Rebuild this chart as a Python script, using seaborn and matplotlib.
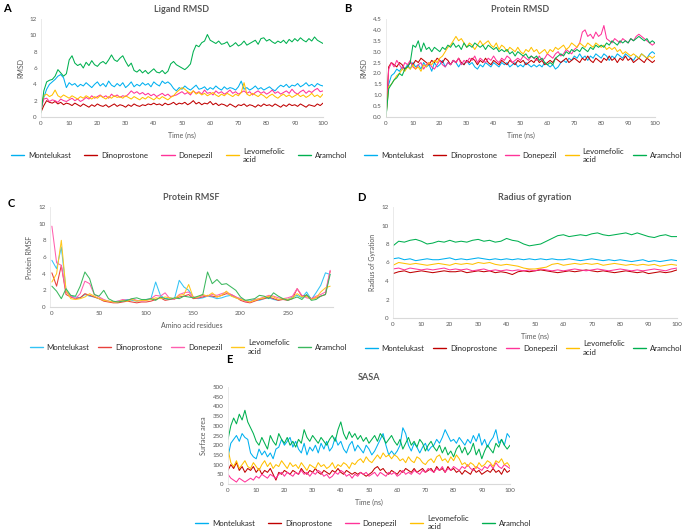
import numpy as np
import pandas as pd
import seaborn as sns
from matplotlib import pyplot as plt
from matplotlib.ticker import MultipleLocator

sns.set_theme(style='white')
plt.rcParams['font.family'] = ['Lato', 'DejaVu Sans']

compounds = ['Montelukast', 'Dinoprostone', 'Donepezil', 'Levomefolic\nacid', 'Aramchol']

# ---- A: ligand RMSD (one value per ns, 0..100)
lig_mont = [1.0, 2.4, 3.4, 4.0, 4.3, 4.6, 5.0, 5.2, 4.8, 3.6, 4.2, 3.9, 4.1, 3.7, 4.0, 3.8, 4.2, 3.9, 3.6, 4.0,
            4.3, 3.8, 4.1, 3.7, 4.4, 3.9, 3.7, 4.1, 3.8, 4.2, 3.6, 3.9, 4.3, 3.7, 4.0, 3.8, 4.2, 3.9, 4.1, 3.7,
            4.3, 4.0, 3.8, 4.4, 4.1, 4.3, 4.0, 3.5, 3.2, 3.6, 3.4, 3.8, 3.5, 3.3, 3.6, 3.9, 3.4, 3.5, 3.7, 3.3,
            3.6, 3.4, 3.8, 3.5, 3.3, 3.7, 3.4, 3.6, 3.5, 3.3, 3.7, 4.4, 3.4, 3.6, 3.3, 3.5, 3.8, 3.4, 3.6, 3.3,
            3.5, 3.7, 3.4, 3.2, 3.6, 3.9, 3.7, 4.0, 3.6, 3.9, 3.8, 4.1, 3.7, 3.9, 4.2, 3.8, 4.0, 3.7, 4.1, 3.9, 3.8]
lig_dino = [0.6, 1.4, 2.0, 1.8, 1.7, 1.9, 1.6, 1.8, 1.5, 1.7, 1.6, 1.4, 1.7, 1.5, 1.3, 1.6, 1.4, 1.2, 1.5, 1.3,
            1.6, 1.4, 1.3, 1.5, 1.2, 1.4, 1.6, 1.3, 1.5, 1.4, 1.2, 1.5, 1.3, 1.6, 1.4, 1.3, 1.5, 1.4, 1.6, 1.5,
            1.7, 1.5, 1.6, 1.4, 1.7, 1.5, 1.6, 1.8, 1.5, 1.7, 1.6, 1.8, 1.5, 1.7, 2.0, 1.6, 1.8, 1.5, 1.7, 1.6,
            1.9, 1.5, 1.7, 1.4, 1.6, 1.5, 1.3, 1.6, 1.4, 1.2, 1.5, 1.4, 1.6, 1.3, 1.5, 1.4, 1.2, 1.5, 1.3, 1.6,
            1.4, 1.5, 1.3, 1.6, 1.4, 1.2, 1.5, 1.3, 1.6, 1.4, 1.5, 1.3, 1.6, 1.4, 1.2, 1.5, 1.4, 1.3, 1.6, 1.4, 1.7]
lig_done = [1.0, 2.2, 2.3, 1.9, 2.1, 2.0, 1.8, 2.2, 2.0, 1.9, 2.1, 2.3, 2.0, 2.2, 1.9, 2.1, 2.4, 2.2, 2.6, 2.3,
            2.5, 2.7, 2.4, 2.6, 2.3, 2.8, 2.5, 2.7, 2.4, 2.6, 2.5, 2.8, 3.2, 2.9, 3.1, 2.8, 3.0, 2.7, 2.9, 2.6,
            2.8, 2.5, 2.7, 2.9, 2.6, 2.8, 2.5, 2.6, 2.7, 2.9, 3.1, 2.8, 3.0, 2.7, 3.2, 2.9, 3.1, 2.8, 3.3, 2.9,
            3.0, 2.7, 3.2, 2.9, 3.1, 2.8, 3.0, 3.3, 2.9, 3.1, 2.8, 3.0, 3.2, 2.9, 3.1, 2.7, 3.0, 3.2, 2.9, 3.1,
            2.8, 3.0, 3.3, 2.9, 3.1, 2.8, 3.0, 3.2, 2.9, 3.4, 3.0, 2.8, 3.1, 3.3, 2.9, 3.2, 3.0, 3.3, 3.5, 3.1, 3.2]
lig_levo = [1.5, 2.6, 2.8, 2.5, 2.7, 3.3, 2.6, 2.4, 2.7, 2.5, 2.3, 2.6, 2.4, 2.2, 2.5, 2.3, 2.6, 2.4, 2.2, 2.5,
            2.3, 2.6, 2.4, 2.2, 2.5, 2.3, 2.6, 2.4, 2.5, 2.3, 2.6, 2.4, 2.2, 2.5, 2.3, 2.1, 2.4, 2.2, 2.5, 2.3,
            2.1, 2.4, 2.2, 2.5, 2.3, 2.1, 2.4, 2.6, 3.0, 3.3, 3.6, 3.4, 3.1, 2.9, 3.2, 2.8, 3.0, 2.7, 2.9, 2.6,
            2.8, 3.0, 2.7, 2.5, 2.8, 2.6, 2.9, 2.7, 2.5, 2.8, 2.6, 3.0, 4.2, 2.8, 2.6, 2.9, 2.7, 2.5, 2.8, 2.6,
            2.3, 2.6, 2.8, 2.5, 2.3, 2.6, 2.8, 2.5, 2.7, 2.4, 2.6, 2.8, 2.5, 2.7, 2.4, 2.6, 2.9, 2.5, 2.7, 2.4, 2.8]
lig_aram = [0.5, 3.2, 4.3, 4.5, 4.6, 5.0, 5.8, 5.4, 5.0, 5.3, 7.0, 7.5, 6.6, 6.3, 6.5, 6.0, 6.7, 6.3, 6.9, 6.4,
            6.2, 6.6, 6.8, 6.5, 7.0, 7.6, 7.0, 6.8, 7.2, 7.5, 6.8, 6.2, 6.6, 5.7, 5.5, 5.8, 5.4, 5.7, 5.3, 5.6,
            5.9, 5.5, 5.4, 5.7, 5.3, 5.6, 6.5, 6.8, 6.4, 6.2, 6.0, 5.8, 6.1, 6.5, 8.0, 8.8, 8.6, 9.1, 9.3, 10.1,
            9.4, 9.2, 9.0, 9.3, 8.9, 9.0, 9.2, 8.6, 8.8, 9.1, 8.7, 8.9, 9.3, 8.8, 9.0, 9.2, 9.4, 8.9, 9.6, 9.7,
            9.3, 9.5, 9.2, 9.0, 9.3, 9.1, 9.4, 9.0, 9.5, 9.2, 9.6, 9.3, 9.7, 9.4, 9.2, 9.6, 9.3, 9.8, 9.4, 9.2, 9.0]

# ---- B: protein RMSD
prot_mont = [0.0, 1.5, 1.9, 2.0, 2.2, 2.1, 2.3, 2.2, 2.4, 2.2, 2.5, 2.3, 2.4, 2.2, 2.5, 2.3, 2.4, 2.1, 2.5, 2.3,
             2.4, 2.6, 2.3, 2.5, 2.4, 2.6, 2.5, 2.3, 2.5, 2.4, 2.6, 2.4, 2.5, 2.3, 2.2, 2.4, 2.3, 2.5, 2.4, 2.3,
             2.5, 2.4, 2.3, 2.5, 2.4, 2.5, 2.3, 2.4, 2.5, 2.3, 2.4, 2.3, 2.5, 2.4, 2.3, 2.4, 2.3, 2.4, 2.3, 2.5,
             2.4, 2.3, 2.4, 2.2, 2.3, 2.5, 2.6, 2.5, 2.7, 2.6, 2.8, 2.7, 2.9, 2.7, 2.8, 2.6, 2.8, 2.7, 2.9, 2.8,
             2.7, 2.9, 2.8, 2.6, 2.8, 2.7, 2.9, 2.8, 2.7, 2.9, 2.8, 2.7, 2.6, 2.8, 2.7, 2.9, 2.8, 2.7, 2.9, 3.0, 2.9]
prot_dino = [0.0, 2.3, 2.5, 2.4, 2.3, 2.5, 2.4, 2.2, 2.3, 2.5, 2.4, 2.6, 2.5, 2.7, 2.6, 2.5, 2.4, 2.6, 2.5, 2.7,
             2.6, 2.5, 2.7, 2.6, 2.4, 2.6, 2.5, 2.7, 2.5, 2.4, 2.6, 2.5, 2.7, 2.6, 2.4, 2.6, 2.5, 2.7, 2.5, 2.4,
             2.6, 2.5, 2.4, 2.6, 2.5, 2.4, 2.6, 2.5, 2.4, 2.6, 2.5, 2.6, 2.4, 2.5, 2.6, 2.5, 2.7, 2.5, 2.6, 2.4,
             2.5, 2.6, 2.5, 2.7, 2.6, 2.5, 2.6, 2.7, 2.5, 2.6, 2.7, 2.6, 2.5, 2.7, 2.6, 2.8, 2.6, 2.5, 2.7, 2.6,
             2.5, 2.7, 2.6, 2.8, 2.6, 2.7, 2.5, 2.7, 2.6, 2.8, 2.6, 2.7, 2.5, 2.6, 2.7, 2.6, 2.5, 2.7, 2.6, 2.5, 2.6]
prot_done = [0.0, 2.2, 2.5, 2.3, 2.6, 2.4, 2.2, 2.5, 2.4, 2.6, 2.3, 2.2, 2.4, 2.5, 2.2, 2.4, 2.5, 2.3, 2.2, 2.4,
             2.6, 2.4, 2.3, 2.5, 2.4, 2.6, 2.5, 2.7, 2.4, 2.6, 2.5, 2.7, 2.6, 2.8, 2.5, 2.7, 2.6, 2.5, 2.7, 2.6,
             2.8, 2.6, 2.5, 2.7, 2.6, 2.8, 2.7, 2.5, 2.6, 2.7, 2.6, 2.8, 2.7, 2.6, 2.8, 2.7, 2.6, 2.8, 2.6, 2.7,
             2.9, 2.8, 2.7, 2.9, 3.0, 2.8, 2.9, 3.1, 3.0, 2.9, 3.1, 3.2, 3.4, 3.9, 4.0, 3.7, 3.8, 3.6, 3.9, 3.7,
             3.8, 4.2, 3.6, 3.5, 3.4, 3.6, 3.5, 3.4, 3.6, 3.5, 3.4, 3.6, 3.5, 3.7, 3.8, 3.7, 3.6, 3.5, 3.4, 3.3, 3.4]
prot_levo = [0.0, 1.4, 1.5, 1.7, 1.9, 2.0, 2.2, 2.1, 2.3, 2.2, 2.4, 2.2, 2.3, 2.1, 2.4, 2.3, 2.5, 2.4, 2.6, 2.5,
             2.7, 2.8, 3.0, 3.2, 3.3, 3.5, 3.7, 3.5, 3.6, 3.4, 3.2, 3.4, 3.3, 3.1, 3.3, 3.5, 3.3, 3.4, 3.5, 3.3,
             3.2, 3.4, 3.1, 3.3, 3.2, 3.0, 3.2, 3.1, 3.0, 3.2, 3.0, 2.9, 3.1, 3.0, 3.2, 3.0, 3.1, 2.9, 3.0, 3.1,
             2.9, 3.1, 3.0, 3.2, 3.1, 3.2, 3.3, 3.1, 3.2, 3.4, 3.3, 3.2, 3.4, 3.3, 3.2, 3.4, 3.3, 3.2, 3.4, 3.3,
             3.2, 3.3, 3.1, 3.2, 3.1, 3.2, 3.0, 3.1, 2.9, 3.0, 2.9, 2.8, 2.9, 2.8, 2.7, 2.9, 2.8, 2.7, 2.8, 2.7, 2.8]
prot_aram = [0.0, 1.3, 1.5, 1.7, 1.8, 2.0, 1.9, 2.2, 2.3, 2.5, 3.3, 3.2, 3.5, 3.0, 3.4, 3.1, 3.2, 3.0, 3.2, 3.1,
             3.0, 3.2, 3.1, 3.3, 3.2, 3.4, 3.2, 3.3, 3.1, 3.4, 3.2, 3.3, 3.2, 3.4, 3.3, 3.2, 3.3, 3.1, 3.3, 3.2,
             3.1, 3.2, 3.0, 3.1, 3.0, 3.1, 2.9, 3.0, 2.8, 3.0, 2.9, 2.8, 2.9, 2.7, 2.8, 2.7, 2.8, 2.6, 2.7, 2.5,
             2.4, 2.5, 2.4, 2.7, 2.8, 2.9, 2.8, 3.0, 2.9, 3.1, 3.0, 3.1, 3.0, 3.2, 3.1, 3.0, 3.2, 3.1, 3.3, 3.2,
             3.3, 3.2, 3.4, 3.3, 3.5, 3.4, 3.3, 3.5, 3.4, 3.5, 3.4, 3.6, 3.5, 3.6, 3.7, 3.6, 3.5, 3.6, 3.4, 3.5, 3.4]

# ---- C: protein RMSF (every 5th residue, 0..295)
rmsf_mont = [5.6, 4.6, 7.2, 2.0, 1.3, 1.2, 1.1, 1.5, 1.3, 1.2,
             1.0, 0.8, 0.7, 0.6, 0.7, 0.8, 0.9, 0.8, 0.7, 0.8,
             0.9, 1.0, 3.0, 1.4, 1.0, 1.1, 1.0, 3.2, 2.4, 2.0,
             1.2, 1.0, 1.1, 1.3, 1.2, 1.0, 1.1, 1.3, 1.4, 1.1,
             1.0, 0.8, 0.7, 0.9, 0.8, 1.0, 1.1, 0.9, 0.8, 1.0,
             0.9, 1.2, 1.4, 1.1, 1.8, 0.9, 1.7, 2.6, 4.1, 3.9]
rmsf_dino = [4.1, 2.5, 5.0, 1.5, 1.2, 1.0, 1.1, 1.6, 1.4, 1.2,
             1.0, 0.7, 0.6, 0.5, 0.5, 0.6, 0.7, 0.6, 0.5, 0.6,
             0.6, 0.7, 0.9, 1.1, 0.8, 0.9, 1.0, 1.2, 1.3, 1.5,
             1.0, 1.1, 1.2, 1.4, 1.3, 1.2, 1.4, 1.6, 1.5, 1.2,
             0.8, 0.6, 0.5, 0.7, 0.9, 1.0, 1.2, 1.0, 0.8, 0.9,
             0.8, 1.0, 2.2, 1.3, 1.4, 1.0, 1.1, 1.3, 1.5, 4.3]
rmsf_done = [9.7, 5.3, 5.0, 1.8, 1.3, 1.0, 1.6, 3.1, 2.8, 1.5,
             1.2, 0.9, 0.7, 0.6, 0.7, 0.9, 0.8, 1.0, 0.8, 0.7,
             0.8, 1.0, 1.4, 1.3, 1.7, 1.0, 0.9, 1.5, 1.7, 1.8,
             1.2, 1.1, 1.4, 1.3, 1.5, 1.4, 1.6, 1.8, 1.5, 1.2,
             1.0, 0.7, 0.6, 0.9, 1.0, 1.2, 1.4, 1.3, 1.1, 1.0,
             1.1, 1.3, 2.2, 1.4, 1.1, 1.0, 1.3, 1.5, 1.8, 4.4]
rmsf_levo = [3.0, 4.0, 8.0, 2.0, 1.0, 0.9, 1.0, 1.2, 1.6, 1.3,
             1.0, 0.8, 0.7, 0.6, 0.6, 0.8, 0.7, 0.9, 0.7, 0.8,
             0.8, 0.9, 1.1, 1.0, 1.2, 1.1, 1.0, 1.4, 1.5, 2.7,
             1.1, 1.2, 1.5, 1.3, 1.7, 1.2, 1.4, 1.9, 1.3, 1.1,
             0.9, 0.8, 0.6, 0.8, 1.0, 1.1, 1.3, 1.2, 0.9, 1.0,
             0.9, 1.1, 1.6, 1.2, 1.3, 0.9, 1.1, 1.8, 2.3, 2.5]
rmsf_aram = [2.5, 1.9, 1.0, 2.2, 1.4, 1.3, 2.5, 4.2, 3.4, 1.5,
             1.3, 2.0, 1.0, 0.7, 0.6, 0.7, 0.8, 1.0, 1.1, 0.9,
             0.9, 1.0, 0.8, 1.2, 1.0, 0.9, 1.1, 1.0, 1.3, 1.2,
             1.1, 1.3, 1.5, 4.2, 2.8, 3.3, 2.7, 2.8, 2.4, 2.0,
             1.2, 0.8, 0.9, 1.0, 1.4, 1.3, 1.0, 1.7, 1.3, 1.0,
             0.8, 1.0, 1.2, 0.9, 1.5, 0.8, 0.9, 1.3, 1.5, 3.9]
residues = np.arange(0, 300, 5)

# ---- D: radius of gyration (every 2 ns)
rg_mont = [6.4, 6.5, 6.3, 6.4, 6.2, 6.3, 6.4, 6.3, 6.3, 6.4, 6.5, 6.3, 6.4, 6.3, 6.4, 6.5, 6.4, 6.3, 6.4, 6.3,
           6.4, 6.3, 6.4, 6.3, 6.4, 6.3, 6.4, 6.3, 6.4, 6.3, 6.3, 6.4, 6.3, 6.2, 6.3, 6.4, 6.3, 6.2, 6.3, 6.2,
           6.3, 6.2, 6.1, 6.2, 6.3, 6.1, 6.2, 6.1, 6.2, 6.3, 6.2]
rg_dino = [4.8, 5.0, 5.1, 4.9, 5.0, 5.1, 5.0, 4.9, 5.0, 5.1, 5.0, 5.0, 5.1, 4.9, 5.0, 5.1, 5.0, 5.1, 4.9, 5.0,
           4.9, 4.7, 5.0, 5.1, 5.0, 5.1, 5.2, 5.1, 5.0, 4.9, 5.0, 5.1, 5.0, 5.1, 5.2, 5.1, 5.0, 5.1, 5.0, 4.9,
           5.0, 5.1, 5.0, 4.9, 5.0, 4.8, 4.9, 5.0, 4.9, 5.0, 5.2]
rg_done = [5.3, 5.4, 5.2, 5.4, 5.3, 5.2, 5.3, 5.2, 5.3, 5.4, 5.2, 5.3, 5.2, 5.3, 5.1, 5.2, 5.3, 5.1, 5.2, 5.1,
           5.2, 5.1, 5.2, 5.1, 5.2, 5.1, 5.3, 5.2, 5.1, 5.2, 5.1, 5.2, 5.3, 5.2, 5.1, 5.2, 5.3, 5.2, 5.1, 5.2,
           5.3, 5.2, 5.1, 5.2, 5.1, 5.2, 5.3, 5.2, 5.1, 5.3, 5.4]
rg_levo = [5.7, 6.0, 5.9, 5.8, 5.9, 5.8, 5.7, 5.8, 5.9, 5.8, 5.7, 5.9, 5.8, 5.9, 5.8, 6.0, 5.9, 6.0, 5.8, 5.7,
           5.8, 5.7, 5.6, 5.4, 5.3, 5.3, 5.4, 5.5, 5.8, 5.9, 5.7, 5.8, 5.9, 5.8, 5.9, 5.8, 5.9, 5.7, 5.8, 5.9,
           5.8, 5.7, 5.8, 5.7, 5.8, 5.7, 5.8, 5.6, 5.7, 5.8, 5.7]
rg_aram = [7.8, 8.3, 8.2, 8.4, 8.5, 8.3, 8.0, 8.1, 8.3, 8.2, 8.4, 8.2, 8.3, 8.2, 8.4, 8.5, 8.3, 8.4, 8.2, 8.3,
           8.6, 8.4, 8.3, 8.0, 7.8, 7.9, 8.0, 8.3, 8.6, 8.9, 9.0, 8.8, 8.9, 9.0, 8.9, 9.1, 9.2, 9.0, 8.9, 9.0,
           9.1, 9.2, 9.0, 9.2, 9.0, 8.8, 8.7, 8.9, 9.0, 8.8, 8.8]

# ---- E: SASA (every ns)
sasa_mont = [140, 210, 230, 250, 220, 260, 240, 230, 160, 140, 130, 180, 150, 170, 140, 160, 130, 180, 190, 230,
             200, 220, 240, 190, 220, 180, 160, 210, 150, 190, 170, 200, 160, 210, 180, 220, 170, 190, 240, 200,
             220, 180, 160, 200, 220, 170, 200, 180, 160, 200, 180, 150, 170, 200, 230, 260, 200, 150, 170, 150,
             170, 200, 290, 260, 200, 170, 210, 190, 160, 190, 210, 170, 190, 200, 230, 210, 240, 280, 250, 220,
             230, 210, 240, 220, 200, 230, 210, 250, 220, 260, 200, 230, 190, 220, 240, 280, 210, 230, 200, 260, 240]
sasa_dino = [70, 100, 80, 110, 70, 90, 60, 80, 70, 90, 60, 80, 50, 70, 60, 80, 50, 20, 60, 50,
             70, 60, 50, 70, 60, 50, 80, 60, 50, 70, 60, 80, 60, 50, 70, 60, 50, 70, 60, 80,
             60, 50, 70, 60, 50, 60, 50, 60, 50, 40, 50, 60, 80, 90, 70, 80, 60, 50, 70, 60,
             50, 70, 60, 80, 70, 60, 80, 60, 70, 80, 60, 70, 80, 60, 90, 70, 80, 60, 90, 70,
             80, 60, 70, 50, 70, 60, 50, 80, 60, 70, 50, 60, 70, 60, 80, 60, 70, 50, 80, 60, 70]
sasa_done = [50, 30, 20, 10, 30, 20, 10, 20, 30, 20, 40, 30, 50, 40, 30, 50, 40, 30, 50, 60,
             40, 60, 50, 40, 60, 50, 70, 50, 60, 40, 60, 50, 70, 60, 40, 50, 30, 40, 60, 50,
             70, 60, 40, 50, 30, 50, 40, 60, 50, 60, 40, 50, 60, 40, 60, 50, 40, 60, 50, 60,
             40, 50, 70, 50, 60, 50, 70, 60, 50, 70, 60, 80, 70, 60, 80, 70, 90, 60, 80, 70,
             90, 80, 70, 90, 80, 100, 80, 70, 90, 80, 70, 90, 80, 100, 80, 110, 90, 80, 100, 90, 80]
sasa_levo = [180, 110, 90, 120, 80, 100, 120, 90, 80, 110, 90, 70, 100, 120, 90, 110, 80, 100, 90, 120,
             100, 80, 110, 90, 100, 80, 110, 90, 70, 100, 90, 80, 110, 90, 100, 80, 90, 110, 80, 100,
             90, 110, 100, 80, 110, 100, 120, 130, 110, 140, 120, 110, 130, 150, 130, 160, 140, 150, 130, 150,
             140, 120, 130, 110, 140, 120, 110, 140, 130, 110, 100, 120, 130, 110, 140, 150, 120, 130, 110, 140,
             120, 150, 130, 100, 110, 90, 110, 100, 80, 110, 90, 100, 120, 110, 90, 120, 110, 130, 100, 110, 90]
sasa_aram = [230, 300, 340, 310, 360, 330, 380, 320, 290, 260, 220, 200, 240, 210, 180, 250, 220, 200, 260, 230,
             210, 240, 200, 220, 190, 230, 210, 280, 240, 220, 250, 230, 210, 240, 220, 200, 230, 250, 220, 280,
             320, 260, 230, 270, 240, 260, 230, 250, 220, 240, 210, 230, 250, 220, 260, 240, 210, 230, 250, 220,
             200, 230, 180, 210, 240, 200, 220, 190, 230, 210, 170, 200, 220, 190, 170, 200, 160, 190, 150, 170,
             140, 180, 200, 160, 190, 150, 170, 210, 150, 180, 130, 170, 200, 180, 160, 210, 190, 230, 200, 180, 200]

dark_palette = dict(zip(compounds, ['#00B0F0', '#C00000', '#FF3399', '#FFC000', '#00B050']))
light_palette = dict(zip(compounds, ['#33C3F5', '#E8413C', '#FF5FAF', '#FFC81E', '#3BB85E']))
grey = '#595959'


def long_frame(x, series):
    frames = []
    for name, vals in zip(compounds, series):
        xs = x if len(x) == len(vals) else np.linspace(x[0], x[-1], len(vals))
        frames.append(pd.DataFrame({'x': xs, 'y': vals, 'compound': name}))
    return pd.concat(frames, ignore_index=True)


def panel(rect, x, series, title, letter, letter_xy, xlabel, ylabel, ylim, ystep, xlim, xstep,
          palette, legend_xy, colsp=1.7, lw=0.75):
    ax = fig.add_axes(rect)
    df = long_frame(np.asarray(x, dtype=float), series)
    sns.lineplot(data=df, x='x', y='y', hue='compound', hue_order=compounds, palette=palette,
                 linewidth=lw, ax=ax, estimator=None, sort=False)
    ax.set_xlim(*xlim)
    ax.set_ylim(*ylim)
    ax.yaxis.set_major_locator(MultipleLocator(ystep))
    ax.xaxis.set_major_locator(MultipleLocator(xstep))
    ax.tick_params(length=0, labelsize=4.5, colors=grey, pad=3)
    ax.set_xlabel(xlabel, fontsize=5, color=grey, labelpad=4)
    ax.set_ylabel(ylabel, fontsize=5, color=grey, labelpad=4)
    for s in ['top', 'right']:
        ax.spines[s].set_visible(False)
    ax.spines['left'].set_color('#E6E6E6')
    ax.spines['left'].set_linewidth(0.6)
    ax.spines['bottom'].set_color('#D9D9D9')
    ax.spines['bottom'].set_linewidth(0.8)
    ax.set_title(title, fontsize=6.5, color=grey, fontweight='bold', pad=5)
    fig.text(letter_xy[0], letter_xy[1], letter, fontsize=8, fontweight='bold', color='black',
             ha='left', va='top')
    sns.move_legend(ax, 'center', bbox_to_anchor=legend_xy, ncol=5, frameon=False, title=None,
                    fontsize=5.6, handlelength=1.7, columnspacing=colsp, handletextpad=0.5)
    for line in ax.get_legend().get_lines():
        line.set_linewidth(1.0)
    return ax


W, H = 685, 530
fig = plt.figure(figsize=(6.85, 5.3), dpi=100)


def r(l, t, rgt, b):
    return [l / W, 1 - b / H, (rgt - l) / W, (b - t) / H]


t101 = np.arange(0, 101, 1)
t51 = np.arange(0, 101, 2)

panel(r(41, 19, 323, 117), t101, [lig_mont, lig_dino, lig_done, lig_levo, lig_aram],
      'Ligand RMSD', 'A', (3 / W, 1 - 3 / H), 'Time (ns)', 'RMSD', (0, 12), 2, (0, 100), 10,
      dark_palette, (0.49, -0.39))
panel(r(386, 19, 655, 117), t101, [prot_mont, prot_dino, prot_done, prot_levo, prot_aram],
      'Protein RMSD', 'B', (344 / W, 1 - 3 / H), 'Time (ns)', 'RMSD', (0, 4.5), 0.5, (0, 100), 10,
      dark_palette, (0.51, -0.39), colsp=1.1)
axc = panel(r(50, 207, 333, 307), residues, [rmsf_mont, rmsf_dino, rmsf_done, rmsf_levo, rmsf_aram],
            'Protein RMSF', 'C', (8 / W, 1 - 198 / H), 'Amino acid residues', 'Protein RMSF', (0, 12), 2,
            (-2, 298), 50, light_palette, (0.49, -0.40), colsp=1.1)
axc.xaxis.set_minor_locator(MultipleLocator(2))
axc.tick_params(which='minor', length=2, width=0.5, color='#D9D9D9', direction='in')
panel(r(393, 207, 677, 318), t51, [rg_mont, rg_dino, rg_done, rg_levo, rg_aram],
      'Radius of gyration', 'D', (357 / W, 1 - 192 / H), 'Time (ns)', 'Radius of Gyration', (0, 12), 2,
      (0, 100), 10, dark_palette, (0.46, -0.27), colsp=1.1)
panel(r(228, 387, 510, 484), t101, [sasa_mont, sasa_dino, sasa_done, sasa_levo, sasa_aram],
      'SASA', 'E', (226 / W, 1 - 354 / H), 'Time (ns)', 'Surface area', (0, 500), 50, (0, 100), 10,
      dark_palette, (0.48, -0.40))

fig.savefig('out.png', dpi=100, facecolor='white')
